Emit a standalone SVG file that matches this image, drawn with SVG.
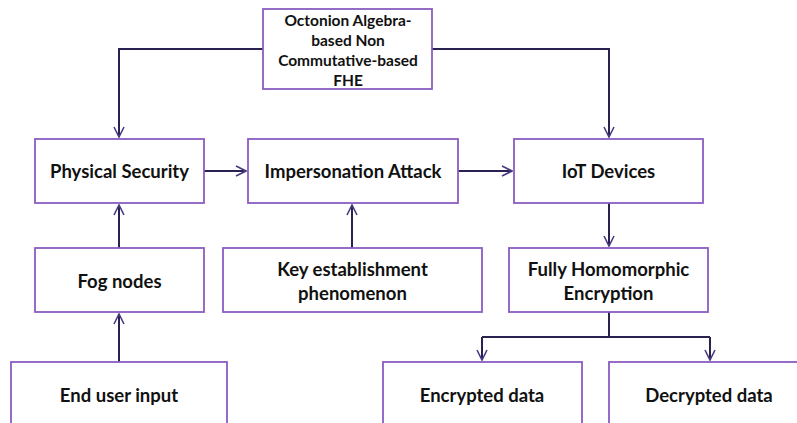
<svg xmlns="http://www.w3.org/2000/svg" width="797" height="423" viewBox="0 0 797 423">
<style>
.box{fill:#fff;stroke:#8a5cc0;stroke-width:1.8}
.t{font-family:Lato,"Open Sans",sans-serif;font-weight:bold;font-size:18.5px;fill:#111;text-anchor:middle}
.s{font-size:15.5px}
.c{fill:none;stroke:#2b2150;stroke-width:2}
</style>
<defs>
<marker id="a" viewBox="0 0 12 12" refX="11" refY="6" markerWidth="12" markerHeight="12" markerUnits="userSpaceOnUse" orient="auto">
<path d="M1,1 L11,6 L1,11" fill="none" stroke="#4a3a80" stroke-width="1.6"/>
</marker>
</defs>
<rect width="797" height="423" fill="#fff"/>
<g id="connectors">
<path class="c" d="M263,49 H119 V137" marker-end="url(#a)"/>
<path class="c" d="M432,49 H609 V137" marker-end="url(#a)"/>
<path class="c" d="M204,171 H246" marker-end="url(#a)"/>
<path class="c" d="M458,171 H512" marker-end="url(#a)"/>
<path class="c" d="M119,248 V205" marker-end="url(#a)"/>
<path class="c" d="M119,362 V314" marker-end="url(#a)"/>
<path class="c" d="M352,248 V205" marker-end="url(#a)"/>
<path class="c" d="M609,203 V246" marker-end="url(#a)"/>
<path class="c" d="M609,312 V337"/>
<path class="c" d="M482,337 H710"/>
<path class="c" d="M482,337 V360" marker-end="url(#a)"/>
<path class="c" d="M710,337 V360" marker-end="url(#a)"/>
</g>
<g id="fhe-top">
<rect class="box" x="263" y="9" width="169" height="80"/>
<text class="t s" x="348" y="25.5">Octonion Algebra-</text>
<text class="t s" x="348" y="45.5">based Non</text>
<text class="t s" x="348" y="65.5">Commutative-based</text>
<text class="t s" x="348" y="85.5">FHE</text>
</g>
<g id="physical-security">
<rect class="box" x="35" y="139" width="169" height="64"/>
<text class="t" x="119.5" y="178">Physical Security</text>
</g>
<g id="impersonation-attack">
<rect class="box" x="248" y="139" width="210" height="64"/>
<text class="t" x="353" y="178">Impersonation Attack</text>
</g>
<g id="iot-devices">
<rect class="box" x="514" y="139" width="189" height="64"/>
<text class="t" x="608.5" y="178">IoT Devices</text>
</g>
<g id="fog-nodes">
<rect class="box" x="35" y="248" width="169" height="64"/>
<text class="t" x="119.5" y="288">Fog nodes</text>
</g>
<g id="key-establishment">
<rect class="box" x="223" y="248" width="259" height="64"/>
<text class="t" x="352.5" y="276">Key establishment</text>
<text class="t" x="352.5" y="300">phenomenon</text>
</g>
<g id="fully-homomorphic">
<rect class="box" x="509" y="248" width="199" height="64"/>
<text class="t" x="608.5" y="276">Fully Homomorphic</text>
<text class="t" x="608.5" y="300">Encryption</text>
</g>
<g id="end-user-input">
<rect class="box" x="11" y="362" width="216" height="70"/>
<text class="t" x="119" y="402">End user input</text>
</g>
<g id="encrypted-data">
<rect class="box" x="383" y="362" width="199" height="70"/>
<text class="t" x="482" y="402">Encrypted data</text>
</g>
<g id="decrypted-data">
<rect class="box" x="609" y="362" width="200" height="70"/>
<text class="t" x="709" y="402">Decrypted data</text>
</g>
</svg>
